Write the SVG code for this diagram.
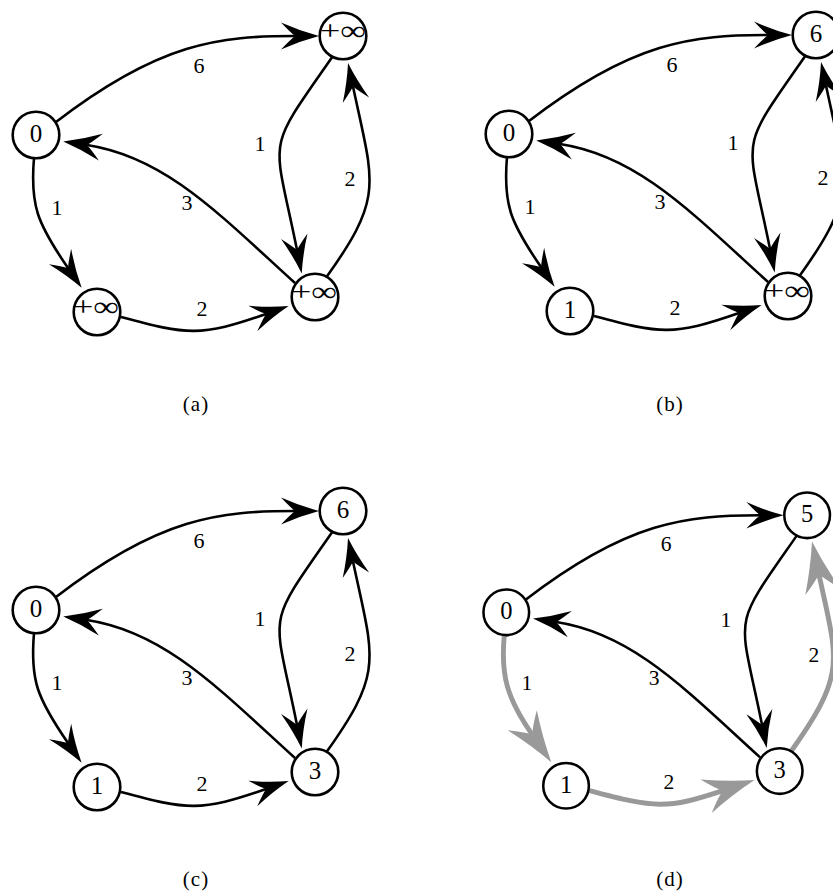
<svg xmlns="http://www.w3.org/2000/svg" width="833" height="892" viewBox="0 0 833 892">
<style>
.node circle{fill:#fff;stroke:#000;stroke-width:2.6}
.edge{fill:none;stroke:#000;stroke-width:2.6;marker-end:url(#ah)}
.edge.hl{stroke:#999;stroke-width:5;marker-end:url(#ahg)}
text{font-family:"Liberation Serif","DejaVu Serif",serif;fill:#000;text-anchor:middle}
.lbl{font-size:22px}
.nl{font-size:25px}
.inf{font-size:28px}
.cap{font-size:21px;letter-spacing:1px}
</style>
<defs>
<marker id="ah" viewBox="-16 -16 42 32" markerWidth="42" markerHeight="32" refX="0" refY="0" orient="auto" markerUnits="userSpaceOnUse">
<path d="M24,0 Q5,-5 -14,-13.5 Q-5,-4 0,0 Q-5,4 -14,13.5 Q5,5 24,0Z" fill="#000"/>
</marker>
<marker id="ahg" viewBox="-20 -20 56 40" markerWidth="56" markerHeight="40" refX="0" refY="0" orient="auto" markerUnits="userSpaceOnUse">
<path d="M34,0 Q8,-7 -18,-18 Q-7,-5 0,0 Q-7,5 -18,18 Q8,7 34,0Z" fill="#999"/>
</marker>
</defs>

<!-- panel (a) -->
<g id="panel-a">
<g id="a-edges">
<path class="edge" d="M56,122 C160,42 220,36 295,36"/>
<path class="edge" d="M34,158 C30,205 37,223 68,268"/>
<path class="edge" d="M121,317 C188,335 200,337 266,314"/>
<path class="edge" d="M295,283 C221,216 166,157 87,145"/>
<path class="edge" d="M332.6,56.5 C264,155 273.4,132.4 297,250"/>
<path class="edge" d="M326.5,277 C384.5,196 373.7,184.3 353,86.5"/>
<text class="lbl" x="199" y="72.5">6</text>
<text class="lbl" x="57" y="214.5">1</text>
<text class="lbl" x="202" y="315.5">2</text>
<text class="lbl" x="187" y="209.5">3</text>
<text class="lbl" x="260" y="150.5">1</text>
<text class="lbl" x="350" y="185.5">2</text>
</g>
<g id="a-n0" class="node"><circle cx="36" cy="135" r="23.3"/><text class="nl" x="36" y="142">0</text></g>
<g id="a-n1" class="node"><circle cx="97" cy="312" r="23.3"/><text class="inf" x="96" y="316" textLength="46" lengthAdjust="spacingAndGlyphs">+∞</text></g>
<g id="a-n3" class="node"><circle cx="315" cy="297" r="23.3"/><text class="inf" x="314" y="301" textLength="46" lengthAdjust="spacingAndGlyphs">+∞</text></g>
<g id="a-n5" class="node"><circle cx="343" cy="36" r="23.3"/><text class="inf" x="343" y="40" textLength="46" lengthAdjust="spacingAndGlyphs">+∞</text></g>
<text class="cap" x="196" y="411">(a)</text>
</g>

<!-- panel (b) -->
<g id="panel-b" transform="translate(473,-1)">
<g id="b-edges">
<path class="edge" d="M56,122 C160,42 220,36 295,36"/>
<path class="edge" d="M34,158 C30,205 37,223 68,268"/>
<path class="edge" d="M121,317 C188,335 200,337 266,314"/>
<path class="edge" d="M295,283 C221,216 166,157 87,145"/>
<path class="edge" d="M332.6,56.5 C264,155 273.4,132.4 297,250"/>
<path class="edge" d="M326.5,277 C384.5,196 373.7,184.3 353,86.5"/>
<text class="lbl" x="199" y="72.5">6</text>
<text class="lbl" x="57" y="214.5">1</text>
<text class="lbl" x="202" y="315.5">2</text>
<text class="lbl" x="187" y="209.5">3</text>
<text class="lbl" x="260" y="150.5">1</text>
<text class="lbl" x="350" y="185.5">2</text>
</g>
<g id="b-n0" class="node"><circle cx="36" cy="135" r="23.3"/><text class="nl" x="36" y="142">0</text></g>
<g id="b-n1" class="node"><circle cx="97" cy="312" r="23.3"/><text class="nl" x="97" y="319">1</text></g>
<g id="b-n3" class="node"><circle cx="315" cy="297" r="23.3"/><text class="inf" x="314" y="301" textLength="46" lengthAdjust="spacingAndGlyphs">+∞</text></g>
<g id="b-n5" class="node"><circle cx="343" cy="36" r="23.3"/><text class="nl" x="343" y="43">6</text></g>
<text class="cap" x="197" y="412">(b)</text>
</g>

<!-- panel (c) -->
<g id="panel-c" transform="translate(0,475)">
<g id="c-edges">
<path class="edge" d="M56,122 C160,42 220,36 295,36"/>
<path class="edge" d="M34,158 C30,205 37,223 68,268"/>
<path class="edge" d="M121,317 C188,335 200,337 266,314"/>
<path class="edge" d="M295,283 C221,216 166,157 87,145"/>
<path class="edge" d="M332.6,56.5 C264,155 273.4,132.4 297,250"/>
<path class="edge" d="M326.5,277 C384.5,196 373.7,184.3 353,86.5"/>
<text class="lbl" x="199" y="72.5">6</text>
<text class="lbl" x="57" y="214.5">1</text>
<text class="lbl" x="202" y="315.5">2</text>
<text class="lbl" x="187" y="209.5">3</text>
<text class="lbl" x="260" y="150.5">1</text>
<text class="lbl" x="350" y="185.5">2</text>
</g>
<g id="c-n0" class="node"><circle cx="36" cy="135" r="23.3"/><text class="nl" x="36" y="142">0</text></g>
<g id="c-n1" class="node"><circle cx="97" cy="312" r="23.3"/><text class="nl" x="97" y="319">1</text></g>
<g id="c-n3" class="node"><circle cx="315" cy="297" r="23.3"/><text class="nl" x="315" y="304">3</text></g>
<g id="c-n5" class="node"><circle cx="343" cy="36" r="23.3"/><text class="nl" x="343" y="43">6</text></g>
<text class="cap" x="196" y="411">(c)</text>
</g>

<!-- panel (d) -->
<g id="panel-d" transform="translate(471,480) scale(0.98)">
<g id="d-edges">
<path class="edge" d="M56,122 C160,42 220,36 295,36"/>
<path class="edge hl" d="M34,158 C30,200 37,223 62.6,260"/>
<path class="edge hl" d="M121,317 C188,335 200,336 257,317"/>
<path class="edge" d="M295,283 C221,216 166,157 87,145"/>
<path class="edge" d="M332.6,56.5 C264,155 273.4,132.4 297,250"/>
<path class="edge hl" d="M326.5,277 C384.5,196 373.6,184 355,96"/>
<text class="lbl" x="199" y="72.5">6</text>
<text class="lbl" x="57" y="214.5">1</text>
<text class="lbl" x="202" y="315.5">2</text>
<text class="lbl" x="187" y="209.5">3</text>
<text class="lbl" x="260" y="150.5">1</text>
<text class="lbl" x="350" y="185.5">2</text>
</g>
<g id="d-n0" class="node"><circle cx="36" cy="135" r="23.3"/><text class="nl" x="36" y="142">0</text></g>
<g id="d-n1" class="node"><circle cx="97" cy="312" r="23.3"/><text class="nl" x="97" y="319">1</text></g>
<g id="d-n3" class="node"><circle cx="315" cy="297" r="23.3"/><text class="nl" x="315" y="304">3</text></g>
<g id="d-n5" class="node"><circle cx="343" cy="36" r="23.3"/><text class="nl" x="343" y="43">5</text></g>
</g>
<text class="cap" x="670" y="886">(d)</text>
</svg>
